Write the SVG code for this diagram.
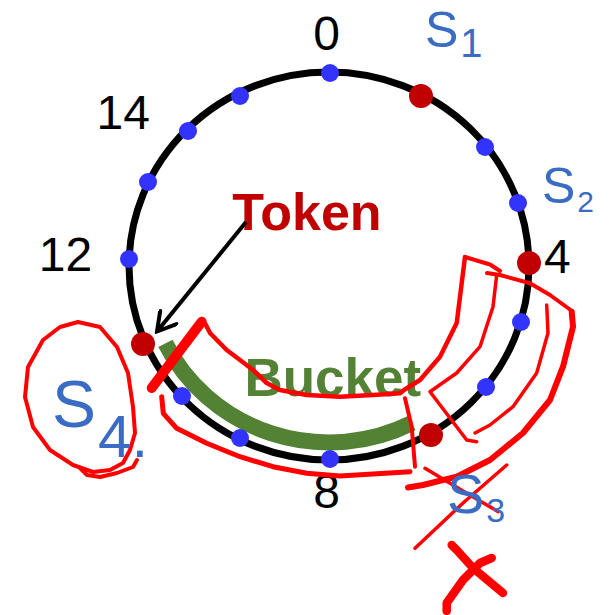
<svg xmlns="http://www.w3.org/2000/svg" width="610" height="615" viewBox="0 0 610 615">
<style>
.num{font-family:"Liberation Sans",Arial,sans-serif;font-size:48px;fill:#000}
.bd{fill:#3333ff}
.rd{fill:#c00000}
.hw{font-family:"Liberation Sans",Arial,sans-serif;fill:#3b6cc4}
.red{fill:none;stroke:#ff0000;stroke-linecap:round;stroke-linejoin:round}
</style>
<defs>
<marker id="openArrow" viewBox="0 0 24 24" refX="21" refY="12" markerWidth="24" markerHeight="24" markerUnits="userSpaceOnUse" orient="auto">
<path d="M3,1.5 L21,12 L3,22.5" fill="none" stroke="#000" stroke-width="4" stroke-linecap="round" stroke-linejoin="miter"/>
</marker>
</defs>
<rect width="610" height="615" fill="#fff"/>

<g id="ring">
<ellipse cx="329" cy="266" rx="200" ry="194" fill="none" stroke="#000" stroke-width="7"/>
</g>

<g id="bucket">
<path d="M165.4,343.4 A182,176.5 0 0 0 412,423" fill="none" stroke="#548235" stroke-width="16"/>
<text x="244.4" y="396" font-family="'Liberation Sans',Arial,sans-serif" font-weight="bold" font-size="53" fill="#548235">Bucket</text>
</g>

<g id="dots">
<circle class="bd" cx="330" cy="73" r="9"/>
<circle class="bd" cx="485" cy="147" r="9"/>
<circle class="bd" cx="518" cy="203" r="9"/>
<circle class="bd" cx="521" cy="322" r="9"/>
<circle class="bd" cx="486" cy="387" r="9"/>
<circle class="bd" cx="330" cy="459" r="9"/>
<circle class="bd" cx="240" cy="438" r="9"/>
<circle class="bd" cx="182" cy="396" r="9"/>
<circle class="bd" cx="129" cy="259" r="9"/>
<circle class="bd" cx="148" cy="182" r="9"/>
<circle class="bd" cx="188" cy="131" r="9"/>
<circle class="bd" cx="240" cy="96" r="9"/>
<circle class="rd" cx="421" cy="96" r="12"/>
<circle class="rd" cx="529" cy="263" r="12"/>
<circle class="rd" cx="431" cy="435" r="12"/>
<circle class="rd" cx="143" cy="344" r="12"/>
</g>

<g id="labels">
<text class="num" x="326.7" y="50" text-anchor="middle">0</text>
<text class="num" x="123.2" y="129" text-anchor="middle">14</text>
<text class="num" x="65.5" y="271" text-anchor="middle">12</text>
<text class="num" x="544" y="273.3">4</text>
<text class="num" x="326.7" y="508" text-anchor="middle">8</text>
</g>

<g id="token">
<text x="232.3" y="230" font-family="'Liberation Sans',Arial,sans-serif" font-weight="bold" font-size="52" fill="#c00000">Token</text>
</g>

<g id="connectors">
<path d="M246,222 L157,331.5" fill="none" stroke="#000" stroke-width="4" marker-end="url(#openArrow)"/>
</g>

<g id="annotations">
<path class="red" stroke-width="10" d="M151.7,388 L201.7,321.7"/>
<path class="red" stroke-width="4.5" d="M201.7,321.7 L205,323.3 L210,333 L226.7,350 L240,360 L253,370 L266.7,383 L280,390 L306.7,395 L340,396.7 L373,395 L400,393.3 L404,390 L420,380 L440,356.7 L456.7,323 L461.7,283.3 L465,257"/>
<path class="red" stroke-width="4" d="M465,257 L490,264.5 L500,271"/>
<path class="red" stroke-width="4" d="M487,273 L500,275 L530,283.3 L550,295 L572,311"/>
<path class="red" stroke-width="3.5" d="M496.7,275 L493,306.7 L480,346.7 L456.7,373 L430,391.7 L466.7,440 L476.7,441.7"/>
<path class="red" stroke-width="3.5" d="M546.7,305 L548,333 L536.7,373 L513,406.7 L490,425 L475,433"/>
<path class="red" stroke-width="6" d="M571.7,311.7 L573,326.7 L563,366.7 L550,400 L523,433 L490,460 L456.7,476.7 L423,485 L408,487.5"/>
<path class="red" stroke-width="4" d="M405,398.3 L411.7,426.7 L415,466.7"/>
<path class="red" stroke-width="5" d="M161.7,396.7 L163.3,413.3 L176.7,428.3 L206.7,443.3 L240,456.7 L273,466.7 L306.7,473.3 L340,476 L373,474 L410,471.7"/>
<path class="red" stroke-width="3.5" d="M425,468.3 L463,491 L498.3,511.7"/>
<path class="red" stroke-width="3.5" d="M506.7,465 L463,503 L415,548.3"/>
<path class="red" stroke-width="8.5" d="M451.7,545 L456.7,550 L473,568 L503,593"/>
<path class="red" stroke-width="8.5" d="M491.7,558 L480,563 L463,580 L446.7,603 L446.7,611"/>
<path class="red" stroke-width="4" d="M78,322 L100,327 L117,347 L128,373 L133,407 L135,433 L130,450 L123,463 L110,470 L93,472 L73,465 L50,450 L33,427 L25,397 L28,367 L43,340 L60,327 L78,322"/>
<path class="red" stroke-width="4" d="M80,468 L87,475 L100,477 L117,473 L133,467 L137,460"/>
</g>

<g id="handwriting">
<text class="hw" x="425" y="47" font-size="50">S<tspan dx="2" dy="10" font-size="40">1</tspan></text>
<text class="hw" x="542" y="203" font-size="50">S<tspan dx="2" dy="9" font-size="30">2</tspan></text>
<text class="hw" x="447" y="513" font-size="56">S<tspan dx="2" dy="9" font-size="34">3</tspan></text>
<text class="hw" x="52" y="427" font-size="66">S<tspan dx="2" dy="30" font-size="60">4.</tspan></text>
</g>
</svg>
